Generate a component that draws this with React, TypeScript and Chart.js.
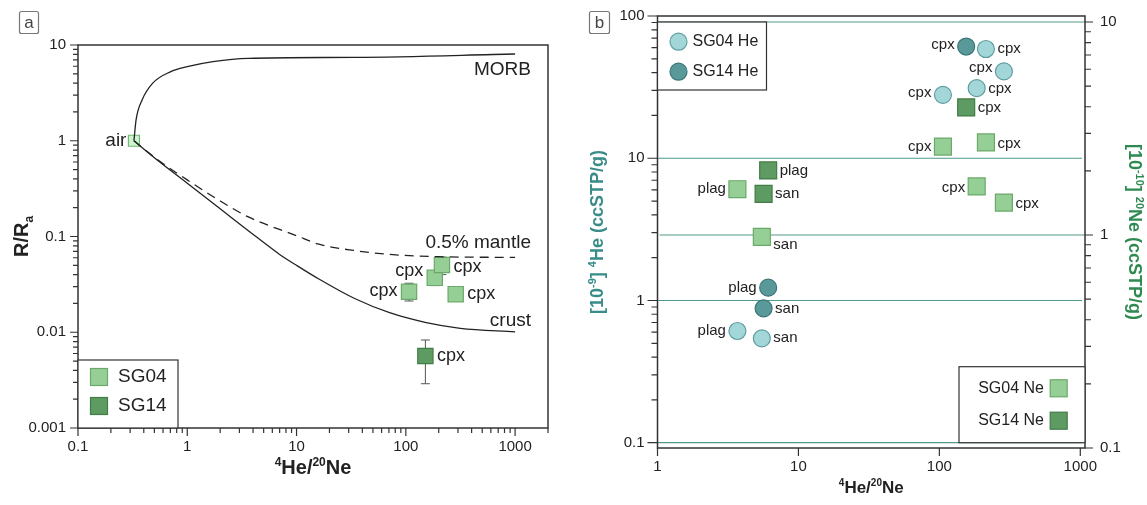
import React, { useEffect, useRef } from 'react';
import { Chart, registerables } from 'chart.js';
Chart.register(...registerables);

const FONT = '"Liberation Sans", Arial, Helvetica, sans-serif';

// ---------------- Panel a data ----------------
const aXTickValues = [0.1, 1, 10, 100, 1000];
const aXTickLabels = ['0.1', '1', '10', '100', '1000'];
const aYTickValues = [0.001, 0.01, 0.1, 1, 10];
const aYTickLabels = ['0.001', '0.01', '0.1', '1', '10'];

const morbX = [0.325, 0.34, 0.386, 0.483, 0.7, 1.0, 1.72, 3.62, 34, 1000];
const morbY = [1, 1.65, 2.67, 4.0, 5.25, 5.94, 6.7, 7.26, 7.43, 8.05];
const crustX = [0.325, 0.56, 1, 2, 3.62, 7, 10, 16, 34, 71, 150, 315, 1000];
const crustY = [1, 0.6, 0.36, 0.195, 0.115, 0.065, 0.05, 0.036, 0.0225, 0.016, 0.0127, 0.011, 0.0101];
const mantleX = [0.325, 0.56, 1, 2, 3.62, 10, 16, 35, 71, 200, 1000];
const mantleY = [1, 0.61, 0.39, 0.235, 0.16, 0.102, 0.083, 0.071, 0.065, 0.0615, 0.0605];

const airX = [0.325];
const airY = [1];
const airLabels = ['air'];

const sg04aX = [107, 184, 214, 286];
const sg04aY = [0.0265, 0.037, 0.0504, 0.025];
const sg04aLo = [0.0212, 0.0307, 0.04, 0.0235];
const sg04aHi = [0.0325, 0.043, 0.061, 0.0268];
const sg04aLabels = ['cpx', 'cpx', 'cpx', 'cpx'];

const sg14aX = [151];
const sg14aY = [0.00565];
const sg14aLo = [0.0029];
const sg14aHi = [0.0083];
const sg14aLabels = ['cpx'];

const curveLabels = ['MORB', '0.5% mantle', 'crust'];
const curveLabelY = [5.45, 0.085, 0.0132];

// ---------------- Panel b data ----------------
const bXTickValues = [1, 10, 100, 1000];
const bXTickLabels = ['1', '10', '100', '1000'];
const bYTickValues = [0.1, 1, 10, 100];
const bYTickLabels = ['0.1', '1', '10', '100'];
const bY2TickValues = [0.1, 1, 10];
const bY2TickLabels = ['0.1', '1', '10'];

const sg04HeX = [214, 287, 184, 106, 3.69, 5.5];
const sg04HeY = [58.6, 40.8, 31.1, 27.9, 0.61, 0.542];
const sg04HeLabels = ['cpx', 'cpx', 'cpx', 'cpx', 'plag', 'san'];

const sg14HeX = [155, 6.1, 5.66];
const sg14HeY = [61, 1.23, 0.88];
const sg14HeLabels = ['cpx', 'plag', 'san'];

const sg04NeX = [106, 214, 184, 287, 3.69, 5.5];
const sg04NeY = [2.6, 2.72, 1.69, 1.42, 1.64, 0.98];
const sg04NeLabels = ['cpx', 'cpx', 'cpx', 'cpx', 'plag', 'san'];

const sg14NeX = [155, 6.1, 5.66];
const sg14NeY = [3.97, 2.01, 1.56];
const sg14NeLabels = ['cpx', 'plag', 'san'];

// label placement (side of marker, vertical nudge in px)
const sg04aSide = ['l', 'l', 'r', 'r'];
const sg04aDy = [-1, -7, 2, 0];
const sg14aSide = ['r'];
const sg14aDy = [0];
const sg04HeSide = ['r', 'l', 'r', 'l', 'l', 'r'];
const sg04HeDy = [0, -4, 1, -2, 0, 0];
const sg14HeSide = ['l', 'l', 'r'];
const sg14HeDy = [-2, 0, 0];
const sg04NeSide = ['l', 'r', 'l', 'r', 'l', 'r'];
const sg04NeDy = [0, 1, 1, 1, 0, 8];
const sg14NeSide = ['r', 'r', 'r'];
const sg14NeDy = [0, 0, 0];

// ---------------- styles ----------------
const SG04_FILL = '#96cf96';
const SG04_EDGE = '#6aa96a';
const SG14_FILL = '#5e9b62';
const SG14_EDGE = '#427c46';
const HE04_FILL = '#a3d6d8';
const HE04_EDGE = '#5f9ea0';
const HE14_FILL = '#5a9999';
const HE14_EDGE = '#3b7677';
const AIR_FILL = '#cff4cf';
const AIR_EDGE = '#74b874';
const INK = '#222';
const GRID = '#4f9a8a';

const pts = (xs: number[], ys: number[]) => xs.map((x, i) => ({ x, y: ys[i] }));

function labelFor(v: number, vals: number[], labels: string[]) {
  for (let i = 0; i < vals.length; i++) if (Math.abs(v / vals[i] - 1) < 1e-6) return labels[i];
  return '';
}

function logTickValues(min: number, max: number) {
  const out: { v: number; major: boolean }[] = [];
  for (let e = Math.floor(Math.log10(min)); e <= Math.ceil(Math.log10(max)); e++) {
    for (let k = 1; k <= 9; k++) {
      const v = k * Math.pow(10, e);
      if (v >= min * 0.9999 && v <= max * 1.0001) out.push({ v, major: k === 1 });
    }
  }
  return out;
}

function drawAxisTicks(ctx: any, chart: any, scale: any, side: string, majorLen: number, minorLen: number) {
  const ca = chart.chartArea;
  const vals = logTickValues(scale.min, scale.max);
  ctx.save();
  ctx.strokeStyle = '#333';
  ctx.lineWidth = 1.2;
  ctx.beginPath();
  for (const t of vals) {
    const len = t.major ? majorLen : minorLen;
    if (len <= 0) continue;
    const p = scale.getPixelForValue(t.v);
    if (side === 'bottom') {
      ctx.moveTo(p, ca.bottom);
      ctx.lineTo(p, ca.bottom + len);
    } else if (side === 'left') {
      ctx.moveTo(ca.left, p);
      ctx.lineTo(ca.left - len, p);
    } else {
      ctx.moveTo(ca.right, p);
      ctx.lineTo(ca.right + len, p);
    }
  }
  ctx.stroke();
  ctx.restore();
}

type Part = { t: string; s?: 'sup' | 'sub' };
function drawRich(ctx: any, parts: Part[], cx: number, cy: number, size: number, weight: string, color: string, rot: number) {
  ctx.save();
  ctx.translate(cx, cy);
  if (rot) ctx.rotate(rot);
  const small = Math.round(size * 0.6);
  const widths = parts.map((p) => {
    ctx.font = `${weight} ${p.s ? small : size}px ${FONT}`;
    return ctx.measureText(p.t).width;
  });
  const total = widths.reduce((a, b) => a + b, 0);
  let x = -total / 2;
  ctx.fillStyle = color;
  ctx.textAlign = 'left';
  ctx.textBaseline = 'alphabetic';
  const base = size * 0.36;
  parts.forEach((p, i) => {
    ctx.font = `${weight} ${p.s ? small : size}px ${FONT}`;
    const dy = p.s === 'sup' ? -size * 0.42 : p.s === 'sub' ? size * 0.22 : 0;
    ctx.fillText(p.t, x, base + dy);
    x += widths[i];
  });
  ctx.restore();
}

type LabelSet = { ds: number; text: string[]; side: string[]; dy: number[]; half: number; gap: number; size: number };
function drawPointLabels(chart: any, sets: LabelSet[]) {
  const ctx = chart.ctx;
  ctx.save();
  ctx.fillStyle = INK;
  ctx.textBaseline = 'middle';
  for (const s of sets) {
    const meta = chart.getDatasetMeta(s.ds);
    ctx.font = `${s.size}px ${FONT}`;
    meta.data.forEach((el: any, i: number) => {
      const left = s.side[i] === 'l';
      ctx.textAlign = left ? 'right' : 'left';
      const x = left ? el.x - s.half - s.gap : el.x + s.half + s.gap;
      ctx.fillText(s.text[i], x, el.y + s.dy[i]);
    });
  }
  ctx.restore();
}

function drawTag(ctx: any, x: number, y: number, w: number, h: number, t: string) {
  ctx.save();
  ctx.strokeStyle = '#777';
  ctx.lineWidth = 1.2;
  ctx.beginPath();
  if (ctx.roundRect) ctx.roundRect(x, y, w, h, 2);
  else ctx.rect(x, y, w, h);
  ctx.stroke();
  ctx.fillStyle = '#444';
  ctx.font = `17px ${FONT}`;
  ctx.textAlign = 'center';
  ctx.textBaseline = 'middle';
  ctx.fillText(t, x + w / 2, y + h / 2 + 1);
  ctx.restore();
}

function squareAt(ctx: any, cx: number, cy: number, side: number, fill: string, edge: string) {
  ctx.fillStyle = fill;
  ctx.strokeStyle = edge;
  ctx.lineWidth = 1.2;
  ctx.fillRect(cx - side / 2, cy - side / 2, side, side);
  ctx.strokeRect(cx - side / 2, cy - side / 2, side, side);
}
function circleAt(ctx: any, cx: number, cy: number, r: number, fill: string, edge: string) {
  ctx.beginPath();
  ctx.arc(cx, cy, r, 0, Math.PI * 2);
  ctx.fillStyle = fill;
  ctx.fill();
  ctx.strokeStyle = edge;
  ctx.lineWidth = 1.2;
  ctx.stroke();
}

// ---------------- Panel a config ----------------
function configA(): any {
  const plugin = {
    id: 'panelA',
    beforeDatasetsDraw(chart: any) {
      const ctx = chart.ctx;
      const ys = chart.scales.y;
      ctx.save();
      ctx.strokeStyle = '#555';
      ctx.lineWidth = 1;
      const bars = [
        { ds: 4, lo: sg04aLo, hi: sg04aHi },
        { ds: 5, lo: sg14aLo, hi: sg14aHi },
      ];
      for (const b of bars) {
        chart.getDatasetMeta(b.ds).data.forEach((el: any, i: number) => {
          const y1 = ys.getPixelForValue(b.lo[i]);
          const y2 = ys.getPixelForValue(b.hi[i]);
          ctx.beginPath();
          ctx.moveTo(el.x, y1);
          ctx.lineTo(el.x, y2);
          ctx.moveTo(el.x - 4.5, y1);
          ctx.lineTo(el.x + 4.5, y1);
          ctx.moveTo(el.x - 4.5, y2);
          ctx.lineTo(el.x + 4.5, y2);
          ctx.stroke();
        });
      }
      ctx.restore();
    },
    afterDraw(chart: any) {
      const ctx = chart.ctx;
      const ca = chart.chartArea;
      ctx.save();
      ctx.strokeStyle = '#333';
      ctx.lineWidth = 1.5;
      ctx.strokeRect(ca.left, ca.top, ca.right - ca.left, ca.bottom - ca.top);
      ctx.restore();
      drawAxisTicks(ctx, chart, chart.scales.x, 'bottom', 8, 5);
      drawAxisTicks(ctx, chart, chart.scales.y, 'left', 8, 5);

      // curve labels
      ctx.save();
      ctx.fillStyle = INK;
      ctx.font = `19px ${FONT}`;
      ctx.textAlign = 'right';
      ctx.textBaseline = 'middle';
      curveLabels.forEach((t, i) => {
        ctx.fillText(t, ca.right - 17, chart.scales.y.getPixelForValue(curveLabelY[i]));
      });
      ctx.restore();

      drawPointLabels(chart, [
        { ds: 3, text: airLabels, side: ['l'], dy: [0], half: 5.5, gap: 2, size: 19 },
        { ds: 4, text: sg04aLabels, side: sg04aSide, dy: sg04aDy, half: 7.5, gap: 4, size: 18 },
        { ds: 5, text: sg14aLabels, side: sg14aSide, dy: sg14aDy, half: 7.5, gap: 4, size: 18 },
      ]);

      // legend
      ctx.save();
      const lx = ca.left, ly = 360, lw = 100, lh = ca.bottom - 360;
      ctx.fillStyle = '#fff';
      ctx.fillRect(lx, ly, lw, lh);
      ctx.strokeStyle = '#333';
      ctx.lineWidth = 1.2;
      ctx.strokeRect(lx, ly, lw, lh);
      squareAt(ctx, lx + 21, ly + 17, 17, SG04_FILL, SG04_EDGE);
      squareAt(ctx, lx + 21, ly + 46, 17, SG14_FILL, SG14_EDGE);
      ctx.fillStyle = INK;
      ctx.font = `19px ${FONT}`;
      ctx.textAlign = 'left';
      ctx.textBaseline = 'middle';
      ctx.fillText('SG04', lx + 40, ly + 17);
      ctx.fillText('SG14', lx + 40, ly + 46);
      ctx.restore();

      // titles
      const cx = (ca.left + ca.right) / 2;
      drawRich(ctx, [{ t: '4', s: 'sup' }, { t: 'He/' }, { t: '20', s: 'sup' }, { t: 'Ne' }], cx, 467, 20, 'bold', INK, 0);
      drawRich(ctx, [{ t: 'R/R' }, { t: 'a', s: 'sub' }], 21, (ca.top + ca.bottom) / 2, 20, 'bold', INK, -Math.PI / 2);
      drawTag(ctx, 19.5, 11.5, 19, 22, 'a');
    },
  };

  const tickFont = { family: FONT, size: 15 };
  return {
    type: 'scatter',
    data: {
      datasets: [
        { label: 'MORB', data: pts(morbX, morbY), showLine: true, pointRadius: 0, borderColor: INK, borderWidth: 1.3, cubicInterpolationMode: 'monotone', fill: false },
        { label: '0.5% mantle', data: pts(mantleX, mantleY), showLine: true, pointRadius: 0, borderColor: INK, borderWidth: 1.3, borderDash: [9, 6], cubicInterpolationMode: 'monotone', fill: false },
        { label: 'crust', data: pts(crustX, crustY), showLine: true, pointRadius: 0, borderColor: INK, borderWidth: 1.3, cubicInterpolationMode: 'monotone', fill: false },
        { label: 'air', data: pts(airX, airY), pointStyle: 'rect', pointRadius: 7.8, backgroundColor: AIR_FILL, borderColor: AIR_EDGE, borderWidth: 1.2 },
        { label: 'SG04', data: pts(sg04aX, sg04aY), pointStyle: 'rect', pointRadius: 10.8, backgroundColor: SG04_FILL, borderColor: SG04_EDGE, borderWidth: 1.2 },
        { label: 'SG14', data: pts(sg14aX, sg14aY), pointStyle: 'rect', pointRadius: 10.8, backgroundColor: SG14_FILL, borderColor: SG14_EDGE, borderWidth: 1.2 },
      ],
    },
    options: {
      responsive: false,
      animation: false,
      events: [],
      layout: { padding: { top: 45, right: 6, left: 0, bottom: 0 } },
      plugins: { legend: { display: false }, tooltip: { enabled: false } },
      scales: {
        x: {
          type: 'logarithmic', min: 0.1, max: 2000,
          grid: { display: false, drawTicks: true, tickLength: 10 }, border: { display: false },
          ticks: { autoSkip: false, maxRotation: 0, padding: 0, color: INK, font: tickFont, callback: (v: any) => labelFor(Number(v), aXTickValues, aXTickLabels) },
          afterFit: (s: any) => { s.height = 77; },
        },
        y: {
          type: 'logarithmic', min: 0.001, max: 10,
          grid: { display: false, drawTicks: true, tickLength: 12 }, border: { display: false },
          ticks: { autoSkip: false, padding: 0, color: INK, font: tickFont, callback: (v: any) => labelFor(Number(v), aYTickValues, aYTickLabels) },
          afterFit: (s: any) => { s.width = 78; },
        },
      },
    },
    plugins: [plugin],
  };
}

// ---------------- Panel b config ----------------
function configB(): any {
  const plugin = {
    id: 'panelB',
    beforeDatasetsDraw(chart: any) {
      const ctx = chart.ctx;
      const ca = chart.chartArea;
      ctx.save();
      ctx.strokeStyle = GRID;
      ctx.lineWidth = 1.2;
      ctx.beginPath();
      for (const v of [0.1, 1, 10]) {
        const p = chart.scales.y.getPixelForValue(v);
        ctx.moveTo(ca.left, p);
        ctx.lineTo(ca.right - 3, p);
      }
      for (const v of [1, 10]) {
        const p = chart.scales.y2.getPixelForValue(v);
        ctx.moveTo(ca.left + 2, p);
        ctx.lineTo(ca.right, p);
      }
      ctx.stroke();
      ctx.restore();
    },
    afterDraw(chart: any) {
      const ctx = chart.ctx;
      const ca = chart.chartArea;
      ctx.save();
      ctx.strokeStyle = '#333';
      ctx.lineWidth = 1.5;
      ctx.strokeRect(ca.left, ca.top, ca.right - ca.left, ca.bottom - ca.top);
      ctx.restore();
      drawAxisTicks(ctx, chart, chart.scales.x, 'bottom', 8, 0);
      drawAxisTicks(ctx, chart, chart.scales.y, 'left', 10, 6);
      drawAxisTicks(ctx, chart, chart.scales.y2, 'right', 8, 6);

      drawPointLabels(chart, [
        { ds: 0, text: sg04HeLabels, side: sg04HeSide, dy: sg04HeDy, half: 8.5, gap: 3, size: 15 },
        { ds: 1, text: sg14HeLabels, side: sg14HeSide, dy: sg14HeDy, half: 8.5, gap: 3, size: 15 },
        { ds: 2, text: sg04NeLabels, side: sg04NeSide, dy: sg04NeDy, half: 8.5, gap: 3, size: 15 },
        { ds: 3, text: sg14NeLabels, side: sg14NeSide, dy: sg14NeDy, half: 8.5, gap: 3, size: 15 },
      ]);

      // legend top-left (He)
      ctx.save();
      const t10 = chart.scales.y2.getPixelForValue(10);
      const l1x = ca.left, l1y = t10, l1w = 109, l1h = 90 - t10;
      ctx.fillStyle = '#fff';
      ctx.fillRect(l1x, l1y, l1w, l1h);
      ctx.strokeStyle = '#333';
      ctx.lineWidth = 1.2;
      ctx.strokeRect(l1x, l1y, l1w, l1h);
      circleAt(ctx, l1x + 21, 41.7, 8.5, HE04_FILL, HE04_EDGE);
      circleAt(ctx, l1x + 21, 71.7, 8.5, HE14_FILL, HE14_EDGE);
      ctx.fillStyle = INK;
      ctx.font = `16px ${FONT}`;
      ctx.textAlign = 'left';
      ctx.textBaseline = 'middle';
      ctx.fillText('SG04 He', l1x + 35, 41.7);
      ctx.fillText('SG14 He', l1x + 35, 71.7);

      // legend bottom-right (Ne)
      const b01 = chart.scales.y.getPixelForValue(0.1);
      const l2x = ca.right - 126, l2y = 366.7, l2w = 126, l2h = b01 - 366.7;
      ctx.fillStyle = '#fff';
      ctx.fillRect(l2x, l2y, l2w, l2h);
      ctx.strokeStyle = '#333';
      ctx.strokeRect(l2x, l2y, l2w, l2h);
      squareAt(ctx, ca.right - 26.3, 388.3, 17, SG04_FILL, SG04_EDGE);
      squareAt(ctx, ca.right - 26.3, 420.7, 17, SG14_FILL, SG14_EDGE);
      ctx.fillStyle = INK;
      ctx.font = `16px ${FONT}`;
      ctx.textAlign = 'right';
      ctx.textBaseline = 'middle';
      ctx.fillText('SG04 Ne', ca.right - 41, 388.3);
      ctx.fillText('SG14 Ne', ca.right - 41, 420.7);
      ctx.restore();

      // titles
      const cx = (ca.left + ca.right) / 2;
      const cy = (ca.top + ca.bottom) / 2;
      drawRich(ctx, [{ t: '4', s: 'sup' }, { t: 'He/' }, { t: '20', s: 'sup' }, { t: 'Ne' }], cx, 487, 17, 'bold', INK, 0);
      drawRich(ctx, [{ t: '[10' }, { t: '-9', s: 'sup' }, { t: '] ' }, { t: '4', s: 'sup' }, { t: 'He (ccSTP/g)' }], 37, cy, 18, 'bold', '#3a8c89', -Math.PI / 2);
      drawRich(ctx, [{ t: '[10' }, { t: '-10', s: 'sup' }, { t: '] ' }, { t: '20', s: 'sup' }, { t: 'Ne (ccSTP/g)' }], 575, cy, 18, 'bold', '#2f8a52', Math.PI / 2);
      drawTag(ctx, 29.5, 11.5, 20, 22, 'b');
    },
  };

  const tickFont = { family: FONT, size: 15 };
  return {
    type: 'scatter',
    data: {
      datasets: [
        { label: 'SG04 He', data: pts(sg04HeX, sg04HeY), yAxisID: 'y', pointStyle: 'circle', pointRadius: 8.5, backgroundColor: HE04_FILL, borderColor: HE04_EDGE, borderWidth: 1.2 },
        { label: 'SG14 He', data: pts(sg14HeX, sg14HeY), yAxisID: 'y', pointStyle: 'circle', pointRadius: 8.5, backgroundColor: HE14_FILL, borderColor: HE14_EDGE, borderWidth: 1.2 },
        { label: 'SG04 Ne', data: pts(sg04NeX, sg04NeY), yAxisID: 'y2', pointStyle: 'rect', pointRadius: 12, backgroundColor: SG04_FILL, borderColor: SG04_EDGE, borderWidth: 1.2 },
        { label: 'SG14 Ne', data: pts(sg14NeX, sg14NeY), yAxisID: 'y2', pointStyle: 'rect', pointRadius: 12, backgroundColor: SG14_FILL, borderColor: SG14_EDGE, borderWidth: 1.2 },
      ],
    },
    options: {
      responsive: false,
      animation: false,
      events: [],
      layout: { padding: { top: 16, right: 0, left: 0, bottom: 0 } },
      plugins: { legend: { display: false }, tooltip: { enabled: false } },
      scales: {
        x: {
          type: 'logarithmic', min: 1, max: 1080,
          grid: { display: false, drawTicks: true, tickLength: 10 }, border: { display: false },
          ticks: { autoSkip: false, maxRotation: 0, padding: 0, color: INK, font: tickFont, callback: (v: any) => labelFor(Number(v), bXTickValues, bXTickLabels) },
          afterFit: (s: any) => { s.height = 57; },
        },
        y: {
          type: 'logarithmic', position: 'left', min: 0.0918, max: 100,
          grid: { display: false, drawTicks: true, tickLength: 13 }, border: { display: false },
          ticks: { autoSkip: false, padding: 0, color: INK, font: tickFont, callback: (v: any) => labelFor(Number(v), bYTickValues, bYTickLabels) },
          afterFit: (s: any) => { s.width = 97.5; },
        },
        y2: {
          type: 'logarithmic', position: 'right', min: 0.1, max: 10.67,
          grid: { display: false, drawTicks: true, tickLength: 15 }, border: { display: false },
          ticks: { autoSkip: false, padding: 0, color: INK, font: tickFont, callback: (v: any) => labelFor(Number(v), bY2TickValues, bY2TickLabels) },
          afterFit: (s: any) => { s.width = 62; },
        },
      },
    },
    plugins: [plugin],
  };
}

export default function App() {
  const refA = useRef<HTMLCanvasElement>(null);
  const refB = useRef<HTMLCanvasElement>(null);
  useEffect(() => {
    const a = new Chart(refA.current as HTMLCanvasElement, configA());
    const b = new Chart(refB.current as HTMLCanvasElement, configB());
    return () => {
      a.destroy();
      b.destroy();
    };
  }, []);
  return (
    <div style={{ position: 'absolute', left: 0, top: 0, width: 1147, height: 505, background: '#fff', overflow: 'hidden' }}>
      <canvas ref={refA} width={560} height={505} style={{ position: 'absolute', left: 0, top: 0, width: 560, height: 505 }} />
      <canvas ref={refB} width={587} height={505} style={{ position: 'absolute', left: 560, top: 0, width: 587, height: 505 }} />
    </div>
  );
}
